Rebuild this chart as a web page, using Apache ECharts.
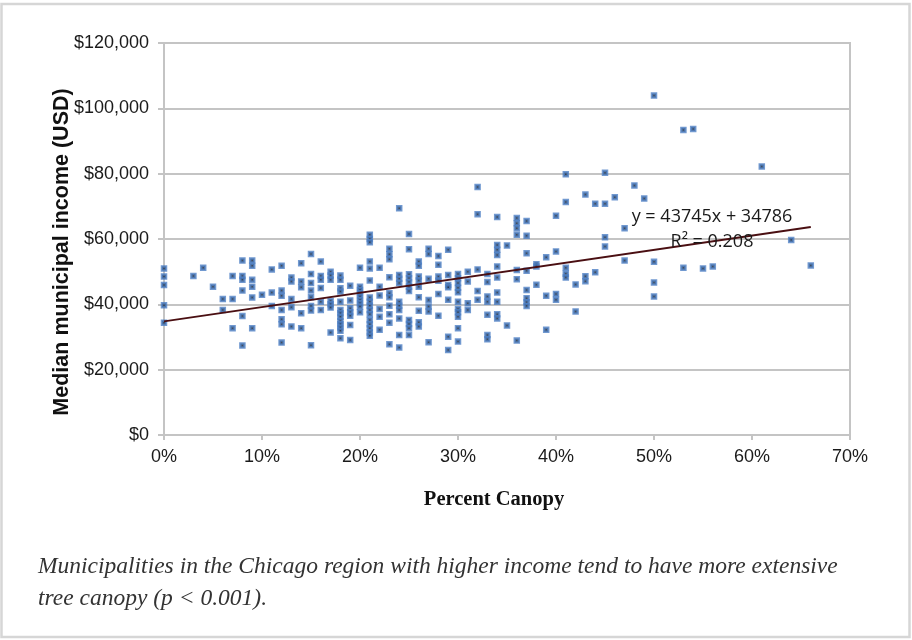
<!DOCTYPE html>
<html>
<head>
<meta charset="utf-8">
<script src="https://cdn.jsdelivr.net/npm/echarts@6/dist/echarts.min.js"></script>
<style>
  html, body { margin: 0; padding: 0; background: #fff; }
  #chart { width: 912px; height: 640px; }
</style>
</head>
<body>
<div id="chart"></div>
<script>
// canopy levels (percent) and the incomes (thousand USD) read at each level
const canopyPct = [0, 3, 4, 5, 6, 7, 8, 9, 10, 11, 12, 13, 14, 15, 16, 17, 18, 19, 20,
  21, 22, 23, 24, 25, 26, 27, 28, 29, 30, 31, 32, 33, 34, 35, 36, 37, 38, 39, 40,
  41, 42, 43, 44, 45, 46, 47, 48, 49, 50, 53, 54, 55, 56, 61, 64, 66];
const incomeK = [
  [51.0, 48.5, 45.9, 39.7, 34.4],
  [48.7],
  [51.2],
  [45.4],
  [41.6, 38.3],
  [48.7, 41.6, 32.7],
  [53.4, 48.7, 47.5, 44.2, 36.4, 27.4],
  [53.4, 51.8, 47.5, 45.4, 42.1, 32.7],
  [42.9],
  [50.7, 43.6, 39.5],
  [51.8, 44.2, 42.6, 38.3, 35.4, 33.9, 28.3],
  [48.2, 47.0, 41.6, 39.1, 33.2],
  [52.6, 47.0, 45.2, 37.3, 32.7],
  [55.4, 49.3, 46.5, 44.2, 42.2, 39.5, 38.1, 27.5],
  [53.1, 48.7, 47.5, 45.0, 40.8, 38.3],
  [50.0, 48.8, 47.5, 41.0, 40.0, 39.0, 31.4],
  [48.8, 47.5, 44.9, 43.9, 40.8, 38.3, 37.3, 36.2, 34.9, 33.9, 32.9, 31.9, 29.6],
  [45.7, 41.2, 38.8, 37.6, 36.5, 33.7, 29.1],
  [51.2, 45.4, 44.4, 43.4, 42.4, 41.3, 40.3, 39.3, 37.6],
  [61.3, 60.0, 59.0, 53.1, 51.0, 47.3, 42.1, 40.8, 39.6, 38.3, 37.0, 35.2, 33.9, 32.7, 31.4, 30.4],
  [51.2, 45.4, 42.7, 38.6, 36.2, 32.2],
  [57.0, 55.3, 53.8, 48.3, 43.4, 42.2, 39.6, 37.0, 34.4, 27.8],
  [69.4, 49.0, 47.8, 46.5, 40.8, 39.6, 38.3, 35.7, 30.6, 26.8],
  [61.5, 56.9, 49.2, 48.0, 46.8, 45.4, 44.1, 35.2, 34.0, 32.7, 30.6],
  [53.1, 51.8, 48.5, 47.3, 45.4, 42.2, 38.0, 34.5, 33.2],
  [57.0, 55.4, 47.8, 41.3, 39.3, 37.8, 28.4],
  [54.8, 52.1, 48.5, 47.2, 43.2, 36.5],
  [56.7, 49.0, 45.9, 45.2, 41.4, 30.1, 26.0],
  [49.3, 48.0, 46.5, 45.1, 43.7, 40.8, 38.6, 37.6, 36.2, 32.7, 28.6],
  [50.0, 47.0, 40.3, 38.3],
  [75.9, 67.6, 50.7, 44.1, 41.4],
  [49.3, 46.8, 42.4, 40.8, 36.8, 30.6, 29.3],
  [66.7, 58.2, 56.7, 55.1, 51.6, 48.2, 43.6, 40.8, 37.0, 35.7],
  [58.0, 33.5],
  [66.4, 64.8, 63.3, 61.3, 50.5, 47.7, 28.9],
  [65.5, 61.0, 55.6, 50.3, 44.4, 41.9, 40.6, 39.5],
  [52.3, 51.6, 46.0],
  [54.4, 42.6, 32.2],
  [67.1, 56.2, 43.2, 41.4],
  [79.8, 71.3, 51.2, 49.4, 48.2],
  [46.1, 37.8],
  [73.6, 48.6, 47.1],
  [70.8, 49.8],
  [80.3, 70.8, 60.5, 57.7],
  [72.8],
  [63.3, 53.4],
  [76.4],
  [72.4],
  [103.9, 53.0, 46.7, 42.4],
  [93.4, 51.2],
  [93.7],
  [51.0],
  [51.6],
  [82.2],
  [59.7],
  [51.9]
];
const incomeTicks = [0, 20000, 40000, 60000, 80000, 100000, 120000];
const pctTicks = [0, 10, 20, 30, 40, 50, 60, 70];

// Excel linear trendline (x as a fraction)
const trendSlope = 43745;
const trendIntercept = 34786;
const trendSpanPct = [0, 66];
const trendText = ['y = 43745x + 34786', 'R² = 0.208'];
const captionLines = [
  'Municipalities in the Chicago region with higher income tend to have more extensive',
  'tree canopy (p < 0.001).'
];

const points = [];
canopyPct.forEach((pct, i) => {
  incomeK[i].forEach(v => points.push([pct, v * 1000]));
});
const trendPoints = trendSpanPct.map(p => [p, trendIntercept + trendSlope * p / 100]);

const gridGray = '#c4c4c4';
const labelFont = '"Liberation Sans", Arial, sans-serif';
const serifFont = '"Liberation Serif", "Times New Roman", serif';

const chart = echarts.init(document.getElementById('chart'));

const option = {
  animation: false,
  backgroundColor: '#fff',
  grid: {
    left: 164, right: 62, top: 43, bottom: 205,
    show: true, borderColor: gridGray, borderWidth: 2
  },
  xAxis: {
    type: 'value',
    min: pctTicks[0],
    max: pctTicks[pctTicks.length - 1],
    interval: 10,
    axisLine: { show: true, lineStyle: { color: gridGray, width: 2 } },
    axisTick: { show: true, length: 5, lineStyle: { color: gridGray, width: 2 } },
    splitLine: { show: false },
    axisLabel: {
      formatter: '{value}%', color: '#1a1a1a', fontSize: 18,
      fontFamily: labelFont, margin: 13
    }
  },
  yAxis: {
    type: 'value',
    min: incomeTicks[0],
    max: incomeTicks[incomeTicks.length - 1],
    interval: 20000,
    axisLine: { show: true, lineStyle: { color: gridGray, width: 2 } },
    axisTick: { show: true, length: 6, lineStyle: { color: gridGray, width: 2 } },
    splitLine: { show: true, lineStyle: { color: gridGray, width: 2 } },
    axisLabel: {
      formatter: v => '$' + v.toLocaleString('en-US'),
      color: '#1a1a1a', fontSize: 18, fontFamily: labelFont, margin: 15
    }
  },
  series: [
    {
      name: 'Municipalities',
      type: 'scatter',
      symbol: 'rect',
      symbolSize: 4,
      data: points,
      itemStyle: { color: '#16202e', borderColor: '#4d80c4', borderWidth: 2.5 },
      z: 3
    },
    {
      name: 'Trend',
      type: 'line',
      data: trendPoints,
      symbol: 'none',
      lineStyle: { color: '#4a0f12', width: 2 },
      z: 4
    }
  ],
  graphic: [
    {
      type: 'rect',
      shape: { x: 1.5, y: 4, width: 908, height: 633 },
      style: { fill: 'none', stroke: '#d6d6d6', lineWidth: 2.5 },
      silent: true
    },
    {
      type: 'text', x: 712, y: 217, z: 10,
      style: {
        text: trendText[0], fill: '#1a1a1a', fontSize: 18,
        fontFamily: '"Open Sans", sans-serif', align: 'center', verticalAlign: 'middle'
      }
    },
    {
      type: 'text', x: 712, y: 242, z: 10,
      style: {
        text: trendText[1], fill: '#1a1a1a', fontSize: 18,
        fontFamily: '"Open Sans", sans-serif', align: 'center', verticalAlign: 'middle'
      }
    },
    {
      type: 'text', x: 62, y: 252, rotation: Math.PI / 2,
      style: {
        text: 'Median municipal income (USD)', fill: '#111', fontSize: 21.5,
        fontWeight: 'bold', fontFamily: labelFont, align: 'center', verticalAlign: 'middle'
      }
    },
    {
      type: 'text', x: 494, y: 500,
      style: {
        text: 'Percent Canopy', fill: '#111', fontSize: 20.5, fontWeight: 'bold',
        fontFamily: serifFont, align: 'center', verticalAlign: 'middle'
      }
    },
    {
      type: 'text', x: 38, y: 567,
      style: {
        text: captionLines[0], fill: '#333', fontSize: 23.5, fontStyle: 'italic',
        fontFamily: serifFont, verticalAlign: 'middle'
      }
    },
    {
      type: 'text', x: 38, y: 599,
      style: {
        text: captionLines[1], fill: '#333', fontSize: 23.5, fontStyle: 'italic',
        fontFamily: serifFont, verticalAlign: 'middle'
      }
    }
  ]
};

chart.setOption(option);
</script>
</body>
</html>
